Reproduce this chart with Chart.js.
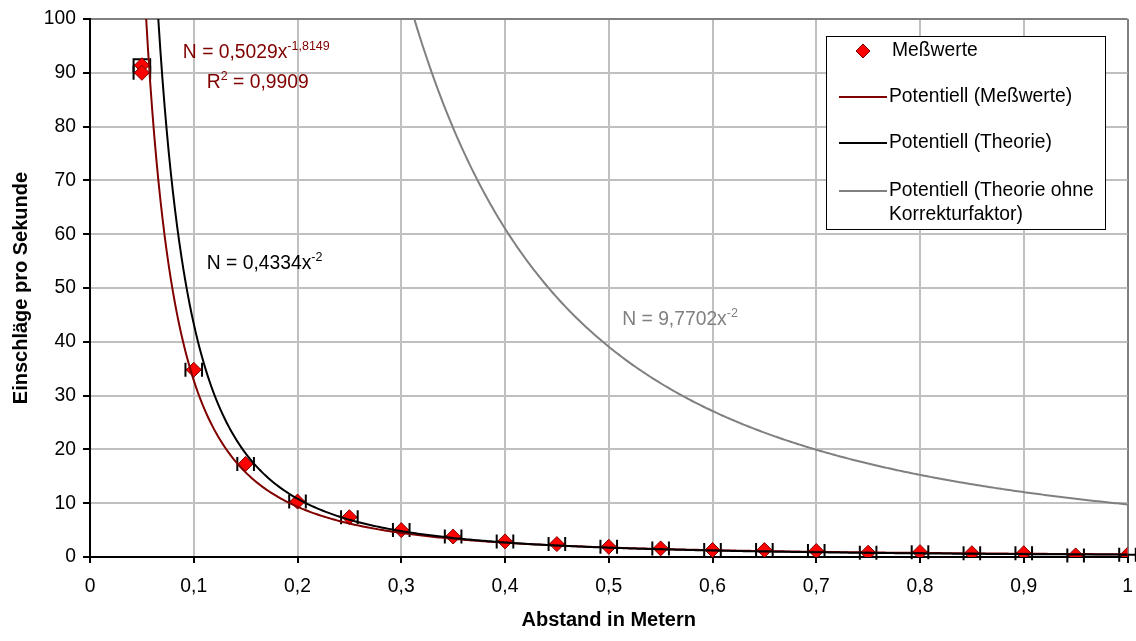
<!DOCTYPE html>
<html lang="de">
<head>
<meta charset="utf-8">
<title>Einschläge pro Sekunde</title>
<script src="https://cdn.jsdelivr.net/npm/chart.js@4.4.0/dist/chart.umd.min.js"></script>
<style>
    html, body { margin: 0; padding: 0; background: #fff; }
    #container { width: 1136px; height: 641px; }
</style>
</head>
<body>
<div id="container"><canvas id="myChart" width="1136" height="641"></canvas></div>
<script>
'use strict'
// ==> Messwerte ____________________________________________________________
let abstand = [0.05, 0.05, 0.1, 0.15, 0.2, 0.25, 0.3, 0.35, 0.4, 0.45, 0.5, 0.55, 0.6, 0.65, 0.7, 0.75, 0.8, 0.85, 0.9, 0.95, 1.0];
let einschlaege = [91.4, 90.0, 34.8, 17.3, 10.3, 7.4, 5.0, 3.8, 2.9, 2.4, 1.9, 1.6, 1.3, 1.3, 1.1, 0.8, 0.9, 0.7, 0.7, 0.3, 0.4];
let abstandFehler = [0.008, 0.008, 0.008, 0.008, 0.008, 0.008, 0.008, 0.008, 0.008, 0.008, 0.008, 0.008, 0.008, 0.008, 0.008, 0.008, 0.008, 0.008, 0.008, 0.008, 0.008];
let einschlaegeFehler = [1.1, 0, 0, 0, 0, 0, 0, 0, 0, 0, 0, 0, 0, 0, 0, 0, 0, 0, 0, 0, 0];

// Potenz-Trendlinien N = a * x^b
let trendNamen = ['Potentiell (Meßwerte)', 'Potentiell (Theorie)', 'Potentiell (Theorie ohne Korrekturfaktor)'];
let trendA = [0.5029, 0.4334, 9.7702];
let trendB = [-1.8149, -2, -2];
let trendFarben = ['#800000', '#000000', '#808080'];

let xTicks = [0, 0.1, 0.2, 0.3, 0.4, 0.5, 0.6, 0.7, 0.8, 0.9, 1];
let yTicks = [0, 10, 20, 30, 40, 50, 60, 70, 80, 90, 100];
//__________________________________________________________________________==<

const FONT = '"Liberation Sans", Arial, sans-serif';
Chart.defaults.color = '#000';
Chart.defaults.font.family = FONT;

function trendPoints(a, b) {
    let pts = [];
    for (let i = 0; i <= 480; i++) {
        let x = 0.04 + i * 0.002;
        pts.push({ x: x, y: a * Math.pow(x, b) });
    }
    return pts;
}

function komma(v) {
    return String(Math.round(v * 10) / 10).replace('.', ',');
}

// horizontale Fehlerbalken unter den Messpunkten
const errorBars = {
    id: 'errorBars',
    beforeDatasetsDraw(chart) {
        let ctx = chart.ctx;
        let xs = chart.scales.x;
        let ys = chart.scales.y;
        ctx.save();
        ctx.strokeStyle = '#000';
        ctx.lineWidth = 2;
        for (let i = 0; i < abstand.length; i++) {
            let px = xs.getPixelForValue(abstand[i]);
            let py = ys.getPixelForValue(einschlaege[i]);
            let x0 = xs.getPixelForValue(abstand[i] - abstandFehler[i]);
            let x1 = xs.getPixelForValue(abstand[i] + abstandFehler[i]);
            ctx.beginPath();
            ctx.moveTo(x0, py); ctx.lineTo(x1, py);
            ctx.moveTo(x0, py - 7); ctx.lineTo(x0, py + 7);
            ctx.moveTo(x1, py - 7); ctx.lineTo(x1, py + 7);
            if (einschlaegeFehler[i] > 0) {
                let y0 = ys.getPixelForValue(einschlaege[i] + einschlaegeFehler[i]);
                let y1 = ys.getPixelForValue(einschlaege[i] - einschlaegeFehler[i]);
                ctx.moveTo(px, y0); ctx.lineTo(px, y1);
                ctx.moveTo(x0, y0); ctx.lineTo(px + 6, y0);
            }
            ctx.stroke();
        }
        ctx.restore();
    }
};

function drawFormel(ctx, x, y, haupt, hoch, farbe) {
    ctx.fillStyle = farbe;
    ctx.textBaseline = 'alphabetic';
    ctx.textAlign = 'left';
    ctx.font = '19.3px ' + FONT;
    ctx.fillText(haupt, x, y);
    let w = ctx.measureText(haupt).width;
    ctx.font = '12.5px ' + FONT;
    ctx.fillText(hoch, x + w, y - 8);
    return x + w + ctx.measureText(hoch).width;
}

// Formeln der Trendlinien und Legende
const beschriftung = {
    id: 'beschriftung',
    afterDraw(chart) {
        let ctx = chart.ctx;
        let xs = chart.scales.x;
        let ys = chart.scales.y;
        ctx.save();

        drawFormel(ctx, xs.getPixelForValue(0.0895), ys.getPixelForValue(92.8), 'N = 0,5029x', '-1,8149', trendFarben[0]);
        let rx = xs.getPixelForValue(0.1126);
        let ry = ys.getPixelForValue(87.2);
        let e = drawFormel(ctx, rx, ry, 'R', '2', trendFarben[0]);
        ctx.font = '19.3px ' + FONT;
        ctx.fillText(' = 0,9909', e, ry);
        drawFormel(ctx, xs.getPixelForValue(0.1126), ys.getPixelForValue(53.6), 'N = 0,4334x', '-2', trendFarben[1]);
        drawFormel(ctx, xs.getPixelForValue(0.513), ys.getPixelForValue(43.2), 'N = 9,7702x', '-2', trendFarben[2]);

        // Legende
        ctx.fillStyle = '#fff';
        ctx.fillRect(826.5, 36.5, 279, 193);
        ctx.strokeStyle = '#000';
        ctx.lineWidth = 1;
        ctx.strokeRect(826.5, 36.5, 279, 193);

        ctx.beginPath();
        ctx.moveTo(863, 44); ctx.lineTo(870, 51); ctx.lineTo(863, 58); ctx.lineTo(856, 51);
        ctx.closePath();
        ctx.fillStyle = '#ff0000';
        ctx.fill();
        ctx.strokeStyle = '#800000';
        ctx.stroke();

        ctx.font = '19.3px ' + FONT;
        ctx.textBaseline = 'middle';
        ctx.fillStyle = '#000';
        ctx.fillText('Meßwerte', 892, 51);
        let zeilen = [97, 143, 191];
        for (let i = 0; i < trendNamen.length; i++) {
            ctx.strokeStyle = trendFarben[i];
            ctx.lineWidth = 2;
            ctx.beginPath();
            ctx.moveTo(839, zeilen[i]); ctx.lineTo(887, zeilen[i]);
            ctx.stroke();
        }
        ctx.fillStyle = '#000';
        ctx.fillText('Potentiell (Meßwerte)', 889, 97);
        ctx.fillText('Potentiell (Theorie)', 889, 143);
        ctx.fillText('Potentiell (Theorie ohne', 889, 191);
        ctx.fillText('Korrekturfaktor)', 889, 215);
        ctx.restore();
    }
};

let datasets = [];
for (let i = 0; i < trendNamen.length; i++) {
    datasets.push({
        label: trendNamen[i],
        data: trendPoints(trendA[i], trendB[i]),
        showLine: true,
        borderColor: trendFarben[i],
        borderWidth: 2,
        pointRadius: 0,
        tension: 0,
        order: 3 - i
    });
}
datasets.push({
    label: 'Meßwerte',
    data: abstand.map((x, i) => ({ x: x, y: einschlaege[i] })),
    pointStyle: 'rectRot',
    pointRadius: 7.5,
    backgroundColor: '#ff0000',
    borderColor: '#800000',
    borderWidth: 1,
    order: 5
});

let ctx = document.getElementById('myChart').getContext('2d');
let myChart = new Chart(ctx, {
    type: 'scatter',
    data: { datasets: datasets },
    options: {
        responsive: false,
        animation: false,
        events: [],
        layout: { padding: { top: 19, right: 7, left: 0, bottom: 0 } },
        plugins: {
            legend: { display: false },
            tooltip: { enabled: false }
        },
        scales: {
            x: {
                type: 'linear',
                min: 0,
                max: 1,
                afterFit: s => { s.height = 84; s.paddingLeft = 0; s.paddingRight = 0; },
                afterBuildTicks: s => { s.ticks = xTicks.map(v => ({ value: v })); },
                ticks: {
                    callback: v => komma(v),
                    font: { size: 19.3 },
                    padding: 12,
                    maxRotation: 0
                },
                grid: {
                    color: c => (c.tick && c.tick.value === 1) ? '#808080' : '#c0c0c0',
                    lineWidth: 2,
                    tickColor: '#000',
                    tickLength: 6,
                    tickWidth: 2
                },
                border: { color: '#000', width: 2 },
                title: {
                    display: true,
                    text: 'Abstand in Metern',
                    font: { size: 20, weight: 'bold' },
                    padding: { top: 0, bottom: 9 }
                }
            },
            y: {
                type: 'linear',
                min: 0,
                max: 100,
                afterFit: s => { s.width = 90; s.paddingTop = 0; s.paddingBottom = 0; },
                afterBuildTicks: s => { s.ticks = yTicks.map(v => ({ value: v })); },
                ticks: {
                    font: { size: 19.3 },
                    padding: 7
                },
                grid: {
                    color: c => (c.tick && c.tick.value === 100) ? '#808080' : '#c0c0c0',
                    lineWidth: 2,
                    tickColor: '#000',
                    tickLength: 7,
                    tickWidth: 2
                },
                border: { color: '#000', width: 2 },
                title: {
                    display: true,
                    text: 'Einschläge pro Sekunde',
                    font: { size: 20, weight: 'bold' },
                    padding: { top: 9, bottom: 0 }
                }
            }
        }
    },
    plugins: [errorBars, beschriftung]
});
</script>
</body>
</html>
